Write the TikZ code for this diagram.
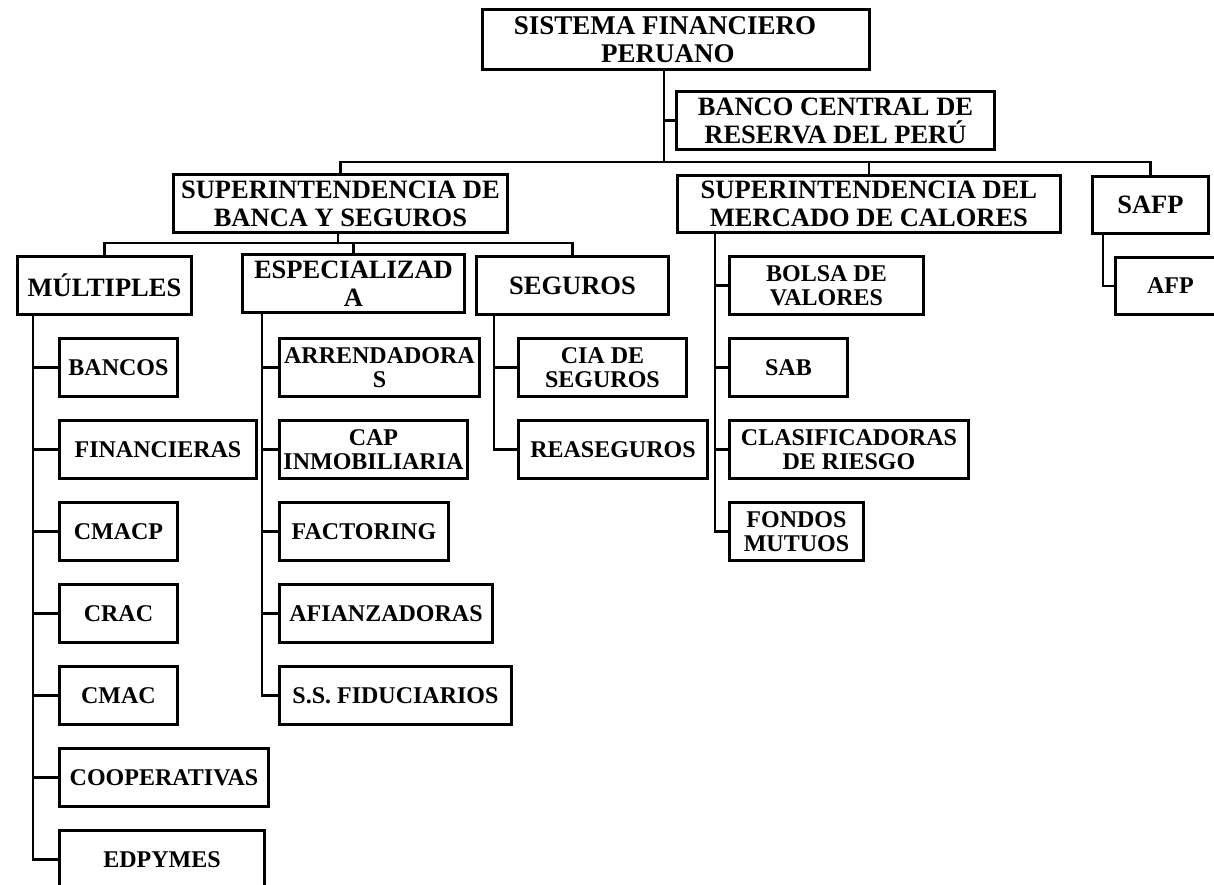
\documentclass[tikz,border=0pt]{standalone}
\usepackage{fontspec}
\setmainfont{Liberation Serif}
\begin{document}
\begin{tikzpicture}[x=1pt,y=-1pt, line width=2.9pt,
  box/.style={draw, rectangle, inner sep=0pt, anchor=north west, align=center},
  head/.style={box, font=\fontsize{26.5}{28}\selectfont\bfseries},
  leaf/.style={box, font=\fontsize{24}{24}\selectfont\bfseries},
  conn/.style={line width=2.9pt}]
\useasboundingbox[fill=white] (0,0) rectangle (1214,885);

% top level
\node[head, font=\fontsize{27}{28}\selectfont\bfseries, minimum width=387, minimum height=60] (sfp) at (481,8) {SISTEMA FINANCIERO\hspace*{22pt}\\PERUANO\hspace*{16pt}};
\node[head, minimum width=318, minimum height=58] (bcr) at (675,90) {BANCO CENTRAL DE\\RESERVA DEL PERÚ};
\node[head, minimum width=334, minimum height=58] (sbs) at (172,173) {SUPERINTENDENCIA DE\\BANCA Y SEGUROS};
\node[head, minimum width=383, minimum height=57] (smv) at (676,174) {SUPERINTENDENCIA DEL\\MERCADO DE CALORES};
\node[head, minimum width=116, minimum height=57] (safp) at (1091,175) {SAFP};

% second level
\node[head, minimum width=174, minimum height=58] (mult) at (16,255) {MÚLTIPLES};
\node[head, minimum width=222, minimum height=58] (esp) at (241,253) {ESPECIALIZAD\\A};
\node[head, minimum width=192, minimum height=58] (seg) at (475,255) {SEGUROS};
\node[leaf, minimum width=194, minimum height=58] (bolsa) at (728,255) {BOLSA DE\\VALORES};
\node[leaf, minimum width=110, minimum height=57] (afp) at (1114,256) {AFP};

% leaves column A
\node[leaf, minimum width=118, minimum height=58] (bancos) at (58,337) {BANCOS};
\node[leaf, minimum width=197, minimum height=58] (financieras) at (58,419) {FINANCIERAS};
\node[leaf, minimum width=118, minimum height=58] (cmacp) at (58,501) {CMACP};
\node[leaf, minimum width=118, minimum height=58] (crac) at (58,583) {CRAC};
\node[leaf, minimum width=118, minimum height=58] (cmac) at (58,665) {CMAC};
\node[leaf, minimum width=209, minimum height=58] (coop) at (58,747) {COOPERATIVAS};
\node[leaf, minimum width=205, minimum height=58] (edpymes) at (58,829) {EDPYMES};

% leaves column B
\node[leaf, minimum width=200, minimum height=58] (arrend) at (278,337) {ARRENDADORA\\S};
\node[leaf, minimum width=188, minimum height=58] (cap) at (278,419) {CAP\\INMOBILIARIA};
\node[leaf, minimum width=169, minimum height=58] (factoring) at (278,501) {FACTORING};
\node[leaf, minimum width=213, minimum height=58] (afianz) at (278,583) {AFIANZADORAS};
\node[leaf, minimum width=232, minimum height=58] (ssf) at (278,665) {S.S. FIDUCIARIOS};

% leaves column C
\node[leaf, minimum width=168, minimum height=58] (cia) at (517,337) {CIA DE\\SEGUROS};
\node[leaf, minimum width=189, minimum height=58] (reaseg) at (517,419) {REASEGUROS};

% leaves column D
\node[leaf, minimum width=118, minimum height=58] (sab) at (728,337) {SAB};
\node[leaf, minimum width=239, minimum height=58] (clasif) at (728,419) {CLASIFICADORAS\\DE RIESGO};
\node[leaf, minimum width=134, minimum height=58] (fondos) at (728,501) {FONDOS\\MUTUOS};

% junctions
\coordinate (j0) at (664,162);
\coordinate (j1) at (338,243);
\coordinate (cA) at (33,313);
\coordinate (cB) at (262,311);
\coordinate (cC) at (494,313);
\coordinate (cD) at (715,231);
\coordinate (cE) at (1103,232);

% connectors
\draw[conn] (sfp.south -| j0) -- (j0);
\draw[conn] (j0 |- bcr.west) -- (bcr.west);
\draw[conn] (sbs.north) |- (j0);
\draw[conn] (j0) -| (smv.north);
\draw[conn] (j0) -| (safp.north);

\draw[conn] (sbs.south -| j1) -- (j1);
\draw[conn] (mult.north) |- (j1);
\draw[conn] (j1) -| (seg.north);
\draw[conn] (esp.north) -- (esp.north |- j1);

\foreach \n in {bancos,financieras,cmacp,crac,cmac,coop,edpymes}
  \draw[conn] (cA) |- (\n.west);
\foreach \n in {arrend,cap,factoring,afianz,ssf}
  \draw[conn] (cB) |- (\n.west);
\foreach \n in {cia,reaseg}
  \draw[conn] (cC) |- (\n.west);
\foreach \n in {bolsa,sab,clasif,fondos}
  \draw[conn] (cD) |- (\n.west);
\draw[conn] (cE) |- (afp.west);
\end{tikzpicture}
\end{document}
